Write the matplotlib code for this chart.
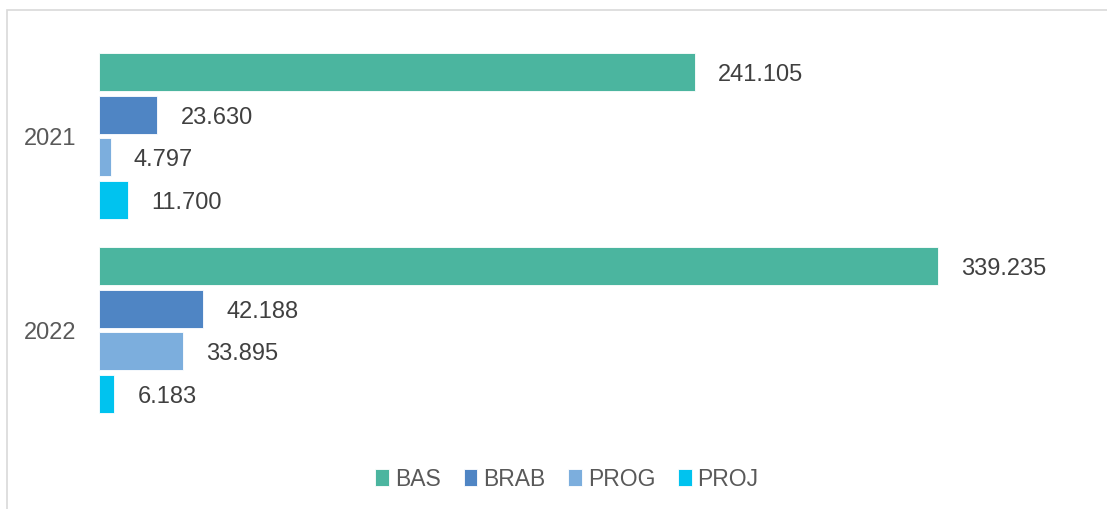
import matplotlib.pyplot as plt
from matplotlib.patches import Rectangle

years = ['2021', '2022']
series = ['BAS', 'BRAB', 'PROG', 'PROJ']
values = {
    'BAS': [241.105, 339.235],
    'BRAB': [23.630, 42.188],
    'PROG': [4.797, 33.895],
    'PROJ': [11.700, 6.183],
}
colors = ['#4bb59f', '#4f85c4', '#7caedd', '#00c3ef']

plt.rcParams['font.family'] = ['Liberation Sans', 'DejaVu Sans']

fig = plt.figure(figsize=(11.07, 5.10), dpi=100)
W, H = 1107, 510

# chart border (right / bottom edges fall outside the picture)
fig.patches.append(Rectangle((6.5 / W, -0.1), 1.2, 1 - 10.5 / H + 0.1,
                             transform=fig.transFigure, fill=False,
                             edgecolor='#d9d9d9', linewidth=1.2))

ax = fig.add_axes([99 / W, 70 / H, 1008 / W, 410 / H])

pitch = 0.22
height = 0.196
for i, (name, col) in enumerate(zip(series, colors)):
    ys = [g + (i - 1.5) * pitch for g in range(len(years))]
    bars = ax.barh(ys, values[name], height=height, color=col,
                   edgecolor='white', linewidth=0.6, label=name)
    for b, v in zip(bars, values[name]):
        txt = f'{v:.3f}'
        ax.annotate(txt, (b.get_width(), b.get_y() + b.get_height() / 2),
                    xytext=(23, -2), textcoords='offset pixels',
                    va='center', ha='left', fontsize=17, color='#404040')

ax.set_xlim(0, 1008 / 2.472)
ax.set_ylim(1.5619, -0.5515)
ax.set_yticks(range(len(years)))
ax.set_yticklabels(years, fontsize=17, color='#595959')
ax.tick_params(axis='y', length=0, pad=16)
ax.set_xticks([])
for s in ax.spines.values():
    s.set_visible(False)

ax.legend(loc='center', bbox_to_anchor=(567 / W, 30 / H),
          bbox_transform=fig.transFigure, ncol=4, frameon=False,
          fontsize=16.5, labelcolor='#595959', handlelength=0.6,
          handleheight=0.8, handletextpad=0.25, columnspacing=1.0)

fig.savefig('out.png', dpi=100)
